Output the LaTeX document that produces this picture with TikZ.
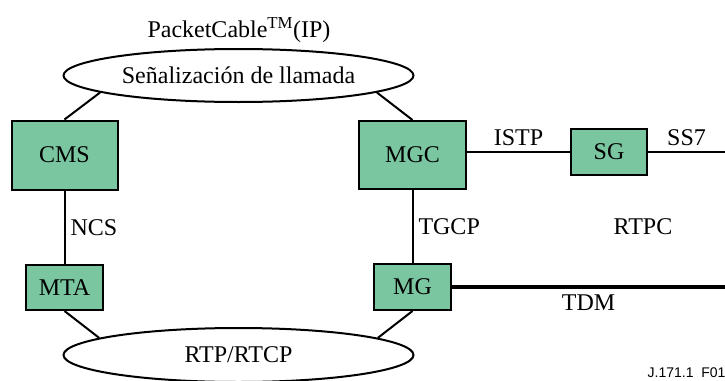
\documentclass[tikz,border=0pt]{standalone}
\usepackage{fontspec}
\setmainfont{Liberation Serif}
\newfontfamily\figsans{Liberation Sans}
\usetikzlibrary{shapes.geometric}
\definecolor{boxgreen}{RGB}{122,198,160}

\begin{document}
\begin{tikzpicture}[
				x=1pt, y=-1pt,
				font=\fontsize{24}{28}\selectfont,
				unit/.style={draw, fill=boxgreen, line width=2pt, inner sep=0pt},
				cloud/.style={draw, ellipse, line width=2pt, minimum width=350pt, minimum height=53pt, inner sep=0pt},
				link/.style={line width=2pt},
				trunk/.style={line width=4pt},
				lbl/.style={inner sep=5pt}
				]
				\useasboundingbox (0,0) rectangle (725,380);
				
				% Nodes
				\node[cloud] (sig) at (238.5,75.5) {Señalización de llamada};
				\node[cloud, minimum height=54pt] (rtp) at (238.5,355) {RTP/RTCP};
				\node (pc) at (239,30) {PacketCable\textsuperscript{TM}(IP)};
				\node[unit, minimum width=106pt, minimum height=69pt] (cms) at (64.5,155) {CMS};
				\node[unit, minimum width=107pt, minimum height=68pt] (mgc) at (412.5,155) {MGC};
				\node[unit, minimum width=76pt, minimum height=46pt] (sg) at (609,152) {SG};
				\node[unit, minimum width=77pt, minimum height=45pt] (mta) at (64.5,287.5) {MTA};
				\node[unit, minimum width=77pt, minimum height=46pt] (mg) at (412.5,287) {MG};
				\node (rtpc) at (643,227) {RTPC};
				\coordinate (ss7end) at (725,152);
				\coordinate (tdmend) at (725,287);
				\node[font=\figsans\fontsize{14}{16}\selectfont, anchor=east] (fig) at (729,373) {J.171.1~~F01};
				
				% Connectors to the clouds
				\draw[link] (cms.north) -- (sig.187);
				\draw[link] (mgc.north) -- (sig.-7);
				\draw[link] (mta.south) -- (rtp.173);
				\draw[link] (mg.south) -- (rtp.7);
				
				% Signalling links
				\draw[link] (cms) -- node[lbl, right]{NCS} (mta);
				\draw[link] (mgc) -- node[lbl, right]{TGCP} (mg);
				\draw[link] (mgc.east |- sg) -- node[lbl, above]{ISTP} (sg);
				\draw[link] (sg) -- node[lbl, above]{SS7} (ss7end);
				
				% Bearer trunk
				\draw[trunk] (mg) -- node[lbl, below, inner sep=6pt]{TDM} (tdmend);
				
\end{tikzpicture}
\end{document}
